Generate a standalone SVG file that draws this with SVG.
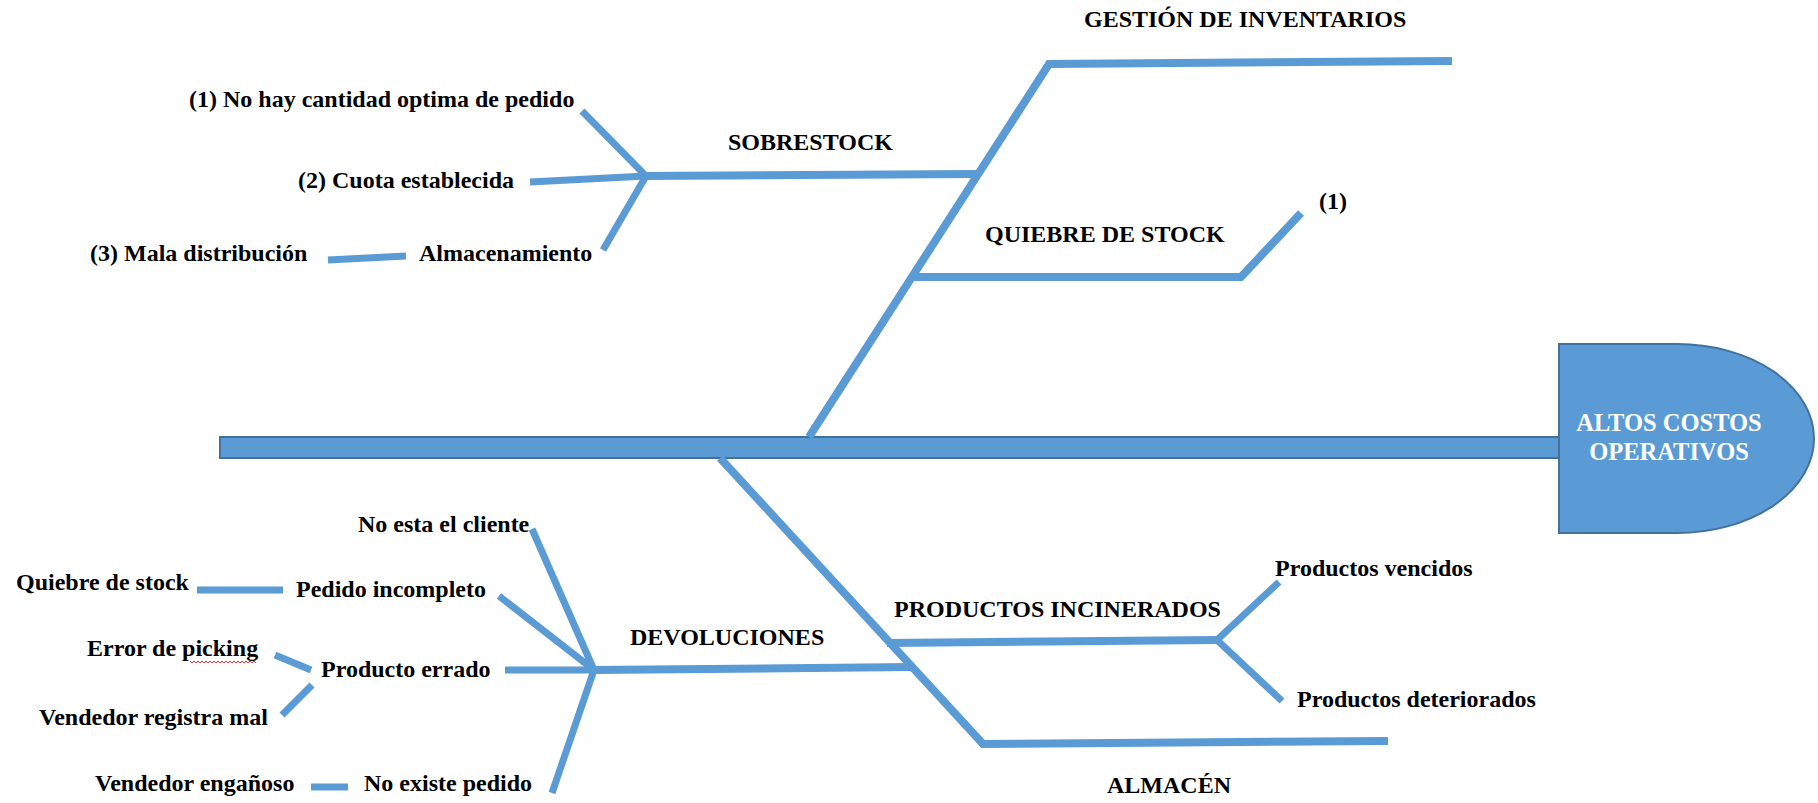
<svg xmlns="http://www.w3.org/2000/svg" width="1818" height="803" viewBox="0 0 1818 803">
<style>
.t{font-family:"Liberation Serif","Times New Roman",serif;font-weight:bold;font-size:24px;fill:#000}
.h{font-family:"Liberation Serif","Times New Roman",serif;font-weight:bold;font-size:24.5px;fill:#fff;text-anchor:middle}
.b{stroke:#5B9BD5;stroke-width:8;fill:none;stroke-linecap:butt;stroke-linejoin:miter}
.s{stroke:#5B9BD5;stroke-width:7;fill:none;stroke-linecap:butt}
</style>
<rect width="1818" height="803" fill="#fff"/>
<g id="connectors">
<rect x="220" y="437" width="1340" height="21" fill="#5B9BD5" stroke="#41719C" stroke-width="2"/>
<path class="b" d="M809,437 L1049,64 L1452,61"/>
<path class="b" d="M646,176 L977,174"/>
<path class="s" d="M582,111 L646,176 L603,250"/>
<path class="s" d="M530,182 L646,176"/>
<path class="s" d="M328,260 L406,256"/>
<path class="b" d="M914,277 L1241,277 L1301,213"/>
<path class="b" d="M720,458 L983,744 L1388,741"/>
<path class="b" d="M887,643 L1217,640"/>
<path class="s" d="M1279,582 L1217,640 L1282,701"/>
<path class="b" d="M594,670 L912,667"/>
<path class="s" d="M532,529 L594,670 L499,596"/>
<path class="s" d="M505,670 L594,670 L552,793"/>
<path class="s" d="M197,590 L283,590"/>
<path class="s" d="M275,655 L311,670"/>
<path class="s" d="M312,685 L282,715"/>
<path class="s" d="M311,787 L348,787"/>
</g>
<g id="head">
<path d="M1559,344 H1677 A137,94.5 0 0 1 1677,533 H1559 Z" fill="#5B9BD5" stroke="#41719C" stroke-width="2"/>
<text class="h" x="1669" y="431">ALTOS COSTOS</text>
<text class="h" x="1669" y="460">OPERATIVOS</text>
</g>
<g id="gestion"><text class="t" x="1084" y="27">GESTIÓN DE INVENTARIOS</text></g>
<g id="sobrestock"><text class="t" x="728" y="150">SOBRESTOCK</text></g>
<g id="c1"><text class="t" x="189" y="107">(1) No hay cantidad optima de pedido</text></g>
<g id="c2"><text class="t" x="298" y="188">(2) Cuota establecida</text></g>
<g id="c3"><text class="t" x="90" y="261">(3) Mala distribución</text></g>
<g id="almacenamiento"><text class="t" x="419" y="261">Almacenamiento</text></g>
<g id="quiebre"><text class="t" x="985" y="242">QUIEBRE DE STOCK</text></g>
<g id="q1"><text class="t" x="1319" y="209">(1)</text></g>
<g id="noesta"><text class="t" x="358" y="532">No esta el cliente</text></g>
<g id="quiebre2"><text class="t" x="16" y="590">Quiebre de stock</text></g>
<g id="pedidoinc"><text class="t" x="296" y="597">Pedido incompleto</text></g>
<g id="picking"><text class="t" x="87" y="656">Error de picking</text>
<path d="M190,661 l2,2 l2,-2 l2,2 l2,-2 l2,2 l2,-2 l2,2 l2,-2 l2,2 l2,-2 l2,2 l2,-2 l2,2 l2,-2 l2,2 l2,-2 l2,2 l2,-2 l2,2 l2,-2 l2,2 l2,-2 l2,2 l2,-2 l2,2 l2,-2 l2,2 l2,-2 l2,2 l2,-2 l2,2 l2,-2 l2,2" fill="none" stroke="#e03030" stroke-width="1"/></g>
<g id="errado"><text class="t" x="321" y="677">Producto errado</text></g>
<g id="registra"><text class="t" x="39" y="725">Vendedor registra mal</text></g>
<g id="enganoso"><text class="t" x="95" y="791">Vendedor engañoso</text></g>
<g id="noexiste"><text class="t" x="364" y="791">No existe pedido</text></g>
<g id="devoluciones"><text class="t" x="630" y="645">DEVOLUCIONES</text></g>
<g id="incinerados"><text class="t" x="894" y="617">PRODUCTOS INCINERADOS</text></g>
<g id="vencidos"><text class="t" x="1275" y="576">Productos vencidos</text></g>
<g id="deteriorados"><text class="t" x="1297" y="707">Productos deteriorados</text></g>
<g id="almacen"><text class="t" x="1107" y="793">ALMACÉN</text></g>
</svg>
